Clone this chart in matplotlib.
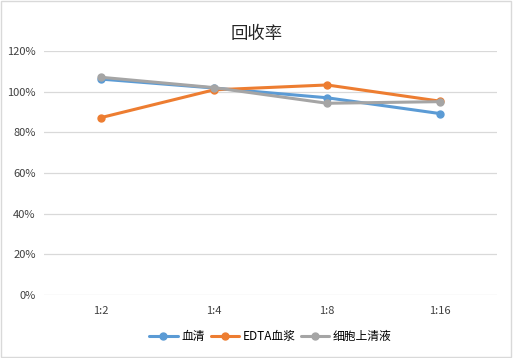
import matplotlib
matplotlib.use('Agg')
import matplotlib.pyplot as plt
from matplotlib.ticker import PercentFormatter

plt.rcParams['font.family'] = ['Noto Sans CJK SC', 'DejaVu Sans']

categories = ['1:2', '1:4', '1:8', '1:16']
serum = [106.2, 101.8, 97.0, 89.2]
edta_plasma = [87.2, 100.9, 103.3, 95.3]
cell_supernatant = [107.1, 102.0, 94.3, 95.1]

series_names = ['血清', 'EDTA血浆', '细胞上清液']
colors = ['#5B9BD5', '#ED7D31', '#A5A5A5']

fig = plt.figure(figsize=(5.13, 3.58), dpi=100)
ax = fig.add_axes([0.0858, 0.176, 0.883, 0.6815])

x = list(range(len(categories)))
for vals, name, c in zip([serum, edta_plasma, cell_supernatant], series_names, colors):
    ax.plot(x, vals, color=c, lw=2.2, marker='o', ms=5, label=name, solid_capstyle='round')

ax.set_xlim(-0.5, len(categories) - 0.5)
ax.set_ylim(0, 120)
ax.set_yticks(range(0, 121, 20))
ax.yaxis.set_major_formatter(PercentFormatter(decimals=0))
ax.set_xticks(x)
ax.set_xticklabels(categories)
ax.grid(axis='y', color='#D9D9D9', lw=0.9)
ax.set_axisbelow(True)
for s in ax.spines.values():
    s.set_visible(False)
ax.tick_params(length=0, labelsize=8, colors='#404040', pad=6)
ax.tick_params(axis='x', pad=8)

fig.text(0.5, 0.905, '回收率', ha='center', va='center', fontsize=12.5, color='#262626')

ax.legend(loc='center', bbox_to_anchor=(0.5, -0.172), ncol=3, frameon=False,
          fontsize=8.5, handlelength=2.4, columnspacing=0.5, handletextpad=0.3)

border = plt.Rectangle((0.002, 0.003), 0.995, 0.994, transform=fig.transFigure,
                       fill=False, edgecolor='#D9D9D9', lw=1)
fig.patches.append(border)

fig.savefig('out.png', dpi=100)
